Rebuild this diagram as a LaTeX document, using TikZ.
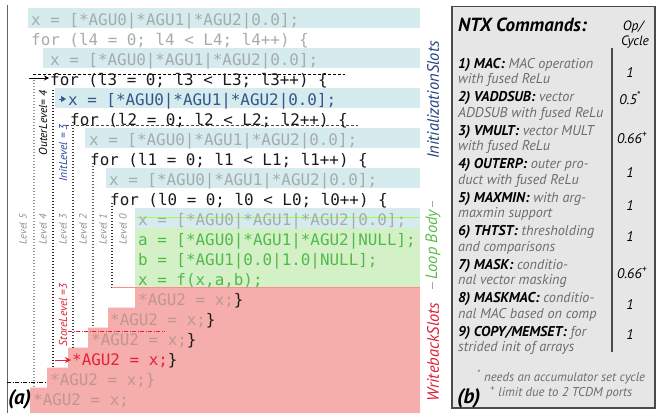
\documentclass[tikz,border=0pt]{standalone}
\usepackage{fontspec}
\setmainfont{PT Sans}
\newfontfamily\codefont{DejaVu Sans Mono}
\usetikzlibrary{arrows.meta}

\definecolor{initbg}{HTML}{D5EBEE}
\definecolor{bodybg}{HTML}{D4F0C6}
\definecolor{wbbg}{HTML}{F5AEAC}
\definecolor{codegray}{HTML}{A6ACAC}
\definecolor{codeblack}{HTML}{1A1A1A}
\definecolor{wbgray}{HTML}{BE9694}
\definecolor{initblue}{HTML}{34568A}
\definecolor{bodygreen}{HTML}{52BA4A}
\definecolor{wbred}{HTML}{E3213A}
\definecolor{slotblue}{HTML}{27407E}
\definecolor{slotgreen}{HTML}{5DBB4A}
\definecolor{slotred}{HTML}{D82036}
\definecolor{levelgray}{HTML}{8C8C8C}
\definecolor{panelbg}{HTML}{E6E6E6}
\definecolor{panelline}{HTML}{4A4A4A}
\definecolor{descgray}{HTML}{6C6C6C}

\newcommand\cmdname[1]{{\bfseries\color{black}#1}}

\tikzset{
  code/.style={anchor=base west, inner sep=0pt, font=\codefont\fontsize{15.9}{16}\selectfont},
  levelline/.style={line width=1.1pt, dash pattern=on 1.1pt off 1.9pt},
  levellab/.style={rotate=90, inner sep=0pt, font=\itshape\fontsize{10.5}{10}\selectfont, text=levelgray},
  marklab/.style={rotate=90, inner sep=0pt, font=\itshape\fontsize{11.5}{12}\selectfont},
  slotlab/.style={rotate=90, inner sep=0pt, font=\itshape\fontsize{16.5}{16}\selectfont},
  entry/.style={anchor=base west, inner sep=0pt, font=\itshape\fontsize{14.2}{14}\selectfont, text=descgray},
  val/.style={anchor=base, inner sep=0pt, font=\itshape\fontsize{14}{14}\selectfont},
}

\begin{document}
\begin{tikzpicture}[x=1pt,y=-1pt]
\useasboundingbox (0,0) rectangle (657,413);

% ---------- (a) slot backgrounds ----------
\fill[initbg] (28,7.5) rectangle (420,27.5);
\fill[initbg] (43,47.5) rectangle (420,67.5);
\fill[initbg] (55,87.5) rectangle (420,107.5);
\fill[initbg] (85,127.5) rectangle (420,147.5);
\fill[initbg] (106,167.5) rectangle (420,187.5);
\fill[initbg] (135,207.5) rectangle (420,227.5);
\fill[bodybg] (135,227.5) rectangle (420,287.5);
\fill[wbbg] (135,287.5) -- (420,287.5) -- (420,413) -- (30,413) -- (30,387.5)
  -- (47,387.5) -- (47,367.5) -- (68,367.5) -- (68,347.5) -- (88,347.5)
  -- (88,327.5) -- (108,327.5) -- (108,307.5) -- (135,307.5) -- cycle;

% frame line of the code panel
\draw[line width=1pt, black!60] (7,5) -- (7,413);

% ---------- loop level guides ----------
\draw[levelline, black!40] (34,80) -- (34,387.5);
\draw[levelline, black!85] (53,90) -- (53,367.5);
\draw[levelline, black!75] (73,122) -- (73,347.5);
\draw[levelline, black!65] (93,163) -- (93,327.5);
\draw[levelline, black!80] (112,203) -- (112,287.5);

% boundary marks
\draw[line width=0.5pt, dash pattern=on 3pt off 2pt] (33,74) -- (345,74);
\draw[line width=0.5pt, dash pattern=on 3pt off 2pt, black!70] (66,125.5) -- (358,125.5);
\draw[line width=0.6pt, green!55!yellow!70] (135,217.5) -- (420,217.5);
\draw[line width=0.6pt, red!45] (112,287.5) -- (420,287.5);
\draw[line width=0.7pt, wbred, dash pattern=on 4pt off 1.5pt on 1pt off 1.5pt] (68,331) -- (165,331);
\draw[line width=0.7pt, dash pattern=on 4pt off 1.5pt on 1pt off 1.5pt] (7,382) -- (47,382);

% ---------- code ----------
\node[code, text=codegray]  (c1)  at (31,25)  {x = [*AGU0|*AGU1|*AGU2|0.0];};
\node[code, text=codegray]  (c2)  at (31,45)  {for (l4 = 0; l4 < L4; l4++) \{};
\node[code, text=codegray]  (c3)  at (50,65)  {x = [*AGU0|*AGU1|*AGU2|0.0];};
\node[code, text=codeblack] (c4)  at (50,85)  {for (l3 = 0; l3 < L3; l3++) \{};
\node[code, text=initblue]  (c5)  at (68,105) {x = [*AGU0|*AGU1|*AGU2|0.0];};
\node[code, text=codeblack] (c6)  at (70,125) {for (l2 = 0; l2 < L2; l2++) \{};
\node[code, text=codegray]  (c7)  at (89,145) {x = [*AGU0|*AGU1|*AGU2|0.0];};
\node[code, text=codeblack] (c8)  at (90,165) {for (l1 = 0; l1 < L1; l1++) \{};
\node[code, text=codegray]  (c9)  at (109,185) {x = [*AGU0|*AGU1|*AGU2|0.0];};
\node[code, text=codeblack] (c10) at (110,205) {for (l0 = 0; l0 < L0; l0++) \{};
\node[code, text=codegray]  (c11) at (138,225) {x = [*AGU0|*AGU1|*AGU2|0.0];};
\node[code, text=bodygreen] (c12) at (138,245) {a = [*AGU0|*AGU1|*AGU2|NULL];};
\node[code, text=bodygreen] (c13) at (138,265) {b = [*AGU1|0.0|1.0|NULL];};
\node[code, text=bodygreen] (c14) at (138,285) {x = f(x,a,b);};
\node[code, text=wbgray]    (c15) at (138,305) {*AGU2 = x;\textcolor{codeblack}{\}}};
\node[code, text=wbgray]    (c16) at (110,325) {*AGU2 = x;\textcolor{codeblack}{\}}};
\node[code, text=wbgray]    (c17) at (91,345)  {*AGU2 = x;\textcolor{codeblack}{\}}};
\node[code, text=wbred]     (c18) at (72,365)  {*AGU2 = x;\textcolor{codeblack}{\}}};
\node[code, text=wbgray]    (c19) at (50,385)  {*AGU2 = x;\}};
\node[code, text=wbgray]    (c20) at (33,405)  {*AGU2 = x;};

% level markers
\coordinate (outertail) at (29,78);
\draw[line width=0.9pt, -{Stealth[length=5pt,width=5pt]}, shorten >=1pt] (outertail) -- (outertail -| c4.west);
\coordinate (inittail) at (59,99);
\draw[initblue, line width=0.5pt, -{Triangle[length=5pt,width=6pt]}, shorten >=2pt] (inittail) -- (inittail -| c5.west);
\coordinate (storetail) at (55,360);
\draw[wbred, line width=1pt, -{Stealth[length=6pt,width=6pt]}, shorten >=1pt] (storetail) -- (storetail -| c18.west);

% level labels
\node[marklab, text=black] (outerlab) at (43,123) {OuterLevel= 4};
\node[marklab, text=initblue!80!blue] (initlab) at (63,153) {InitLevel = 3};
\node[marklab, text=slotred] (storelab) at (63,315) {StoreLevel =3};
\node[levellab] (lv5) at (23,229) {Level 5};
\node[levellab] (lv4) at (43,229) {Level 4};
\node[levellab] (lv3) at (63,229) {Level 3};
\node[levellab] (lv2) at (83,229) {Level 2};
\node[levellab] (lv1) at (103,229) {Level 1};
\node[levellab] (lv0) at (123,229) {Level 0};

% slot captions
\node[slotlab, text=slotblue]  (initslots) at (433,100) {InitializationSlots};
\node[slotlab, text=slotgreen] (loopbody)  at (433,245) {Loop Body};
\node[slotlab, text=slotred]   (wbslots)   at (433,352) {WritebackSlots};
\draw[black!35, line width=0.6pt] (432,201) -- (432,207);
\draw[black!35, line width=0.6pt] (432,282) -- (432,289);

\node[anchor=base west, inner sep=0pt, font=\bfseries\itshape\fontsize{21}{21}\selectfont] (alab) at (8,404) {(a)};

% ---------- (b) command table ----------
\draw[panelline, line width=1.2pt, fill=panelbg] (452,6.5) rectangle (655,408);
\node[anchor=base west, inner sep=0pt, font=\bfseries\itshape\fontsize{19}{19}\selectfont] (title) at (458,31) {NTX Commands:};
\node[val, font=\itshape\fontsize{13.5}{14}\selectfont] (ophead) at (633,30) {Op/};
\node[val, font=\itshape\fontsize{13.5}{14}\selectfont] (cyhead) at (635,45) {Cycle};
\draw[panelline, line width=1.2pt] (612,48) -- (612,352);

\node[entry] (e1)  at (458,68)    {\cmdname{1) MAC:} MAC operation};
\node[entry] (e1b) at (458,83.5)  {with fused ReLu};
\node[entry] (e2)  at (458,101.5) {\cmdname{2) VADDSUB:} vector};
\node[entry] (e2b) at (458,117)   {ADDSUB with fused ReLu};
\node[entry] (e3)  at (458,135)   {\cmdname{3) VMULT:} vector MULT};
\node[entry] (e3b) at (458,150.5) {with fused ReLu};
\node[entry] (e4)  at (458,168.5) {\cmdname{4) OUTERP:} outer pro-};
\node[entry] (e4b) at (458,184)   {duct with fused ReLu};
\node[entry] (e5)  at (458,202)   {\cmdname{5) MAXMIN:} with arg-};
\node[entry] (e5b) at (458,217.5) {maxmin support};
\node[entry] (e6)  at (458,235.5) {\cmdname{6) THTST:} thresholding};
\node[entry] (e6b) at (458,251)   {and comparisons};
\node[entry] (e7)  at (458,269)   {\cmdname{7) MASK:} conditio-};
\node[entry] (e7b) at (458,284.5) {nal vector masking};
\node[entry] (e8)  at (458,302.5) {\cmdname{8) MASKMAC:} conditio-};
\node[entry] (e8b) at (458,318)   {nal MAC based on comp};
\node[entry] (e9)  at (458,336)   {\cmdname{9) COPY/MEMSET:} for};
\node[entry] (e9b) at (458,351.5) {strided init of arrays};

\node[val] (v1) at (630,77)  {1};
\node[val] (v2) at (630,104) {0.5\textsuperscript{*}};
\node[val] (v3) at (632,143) {0.66\textsuperscript{+}};
\node[val] (v4) at (630,177) {1};
\node[val] (v5) at (630,210) {1};
\node[val] (v6) at (630,241) {1};
\node[val] (v7) at (632,278) {0.66\textsuperscript{+}};
\node[val] (v8) at (630,309) {1};
\node[val] (v9) at (630,339) {1};

\node[entry, font=\itshape\fontsize{12.8}{12}\selectfont] (fn1) at (477,381) {\textsuperscript{*} needs an accumulator set cycle};
\node[entry, font=\itshape\fontsize{12.8}{12}\selectfont] (fn2) at (490,396) {\textsuperscript{+} limit due to 2 TCDM ports};
\node[anchor=base west, inner sep=0pt, font=\bfseries\itshape\fontsize{21}{21}\selectfont] (blab) at (457,403) {(b)};
\end{tikzpicture}
\end{document}
